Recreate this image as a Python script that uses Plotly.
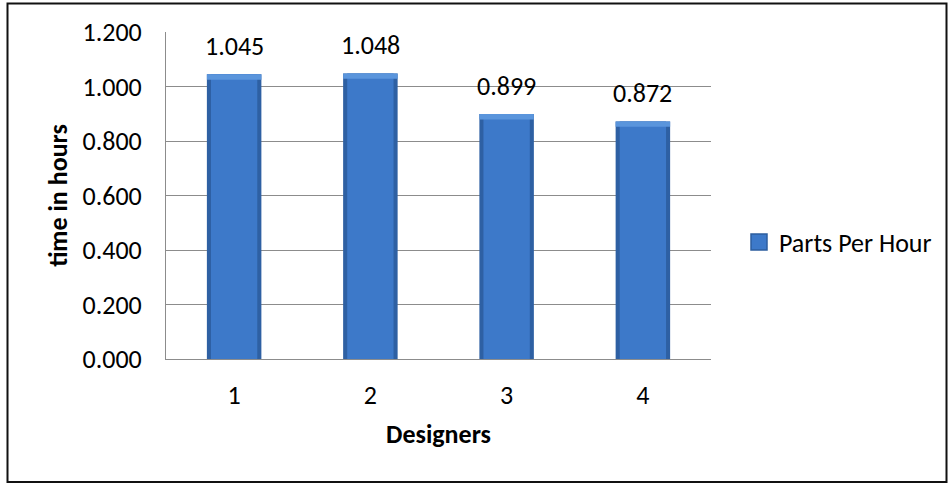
import plotly.graph_objects as go

designers = [1, 2, 3, 4]
parts_per_hour = [1.045, 1.048, 0.899, 0.872]
value_labels = ["1.045", "1.048", "0.899", "0.872"]
y_ticks = [0.0, 0.2, 0.4, 0.6, 0.8, 1.0, 1.2]
y_tick_labels = ["0.000", "0.200", "0.400", "0.600", "0.800", "1.000", "1.200"]
series_name = "Parts Per Hour"

FONT = "Calibri, Carlito, Lato, sans-serif"
FS = 26
W, H = 949, 483
L, R, T, B = 166, 238, 32, 124
pw, ph = W - L - R, H - T - B

fig = go.Figure()
# outer (darker edge) bar
fig.add_trace(go.Bar(x=designers, y=parts_per_hour, width=0.40,
                     marker=dict(color="#2E60A3", line=dict(width=0)),
                     showlegend=False, hoverinfo="skip"))
# inner main fill
fig.add_trace(go.Bar(x=designers, y=parts_per_hour, width=0.34,
                     marker=dict(color="#3D79C9", line=dict(width=0)),
                     showlegend=False, hoverinfo="skip"))
# top bevel highlight
bevel = 0.02
fig.add_trace(go.Bar(x=designers, y=[bevel] * len(parts_per_hour),
                     base=[v - bevel for v in parts_per_hour], width=0.40,
                     marker=dict(color="#5A95DC", line=dict(width=0)),
                     showlegend=False, hoverinfo="skip"))
# legend entry
fig.add_trace(go.Scatter(x=[None], y=[None], mode="markers", name=series_name,
                         marker=dict(symbol="square", size=17, color="#3D79C9",
                                     line=dict(color="#2C5E9F", width=1.5))))

for d, v, lab in zip(designers, parts_per_hour, value_labels):
    fig.add_annotation(x=d, y=v, text=lab, showarrow=False, yanchor="bottom",
                       yshift=10, font=dict(family=FONT, size=FS, color="#000"))

fig.update_layout(
    width=W, height=H, barmode="overlay",
    margin=dict(l=L, r=R, t=T, b=B, pad=0),
    paper_bgcolor="white", plot_bgcolor="white",
    font=dict(family=FONT, size=FS, color="#000"),
    legend=dict(x=(739 - L) / pw, xanchor="left", y=(H - B - 242) / ph, yanchor="middle",
                font=dict(family=FONT, size=FS, color="#000"), bgcolor="rgba(0,0,0,0)",
                itemsizing="trace"),
    showlegend=True,
    xaxis=dict(range=[0.5, 4.5], tickvals=designers, ticktext=[str(d) for d in designers],
               showgrid=False, showline=True, linecolor="#8C8C8C", zeroline=False,
               linewidth=1, ticks="", ticklabelstandoff=13,
               tickfont=dict(family=FONT, size=FS),
               title=dict(text="<b>Designers</b>", standoff=14,
                          font=dict(family=FONT, size=FS))),
    yaxis=dict(range=[0, 1.2], tickvals=y_ticks, ticktext=y_tick_labels,
               showgrid=True, gridcolor="#8C8C8C", gridwidth=1,
               showline=True, linecolor="#8C8C8C", linewidth=1,
               zeroline=False, ticks="", ticklabelstandoff=18,
               tickfont=dict(family=FONT, size=FS),
               title=dict(text="<b>time in hours</b>", standoff=7,
                          font=dict(family=FONT, size=FS))),
    shapes=[dict(type="rect", xref="paper", yref="paper",
                 x0=(7.5 - L) / pw, x1=(946.5 - L) / pw,
                 y0=(H - B - 482) / ph, y1=(H - B - 3.5) / ph,
                 line=dict(color="#111111", width=2), fillcolor="rgba(0,0,0,0)",
                 layer="below")],
)

fig.write_html("out.html")
